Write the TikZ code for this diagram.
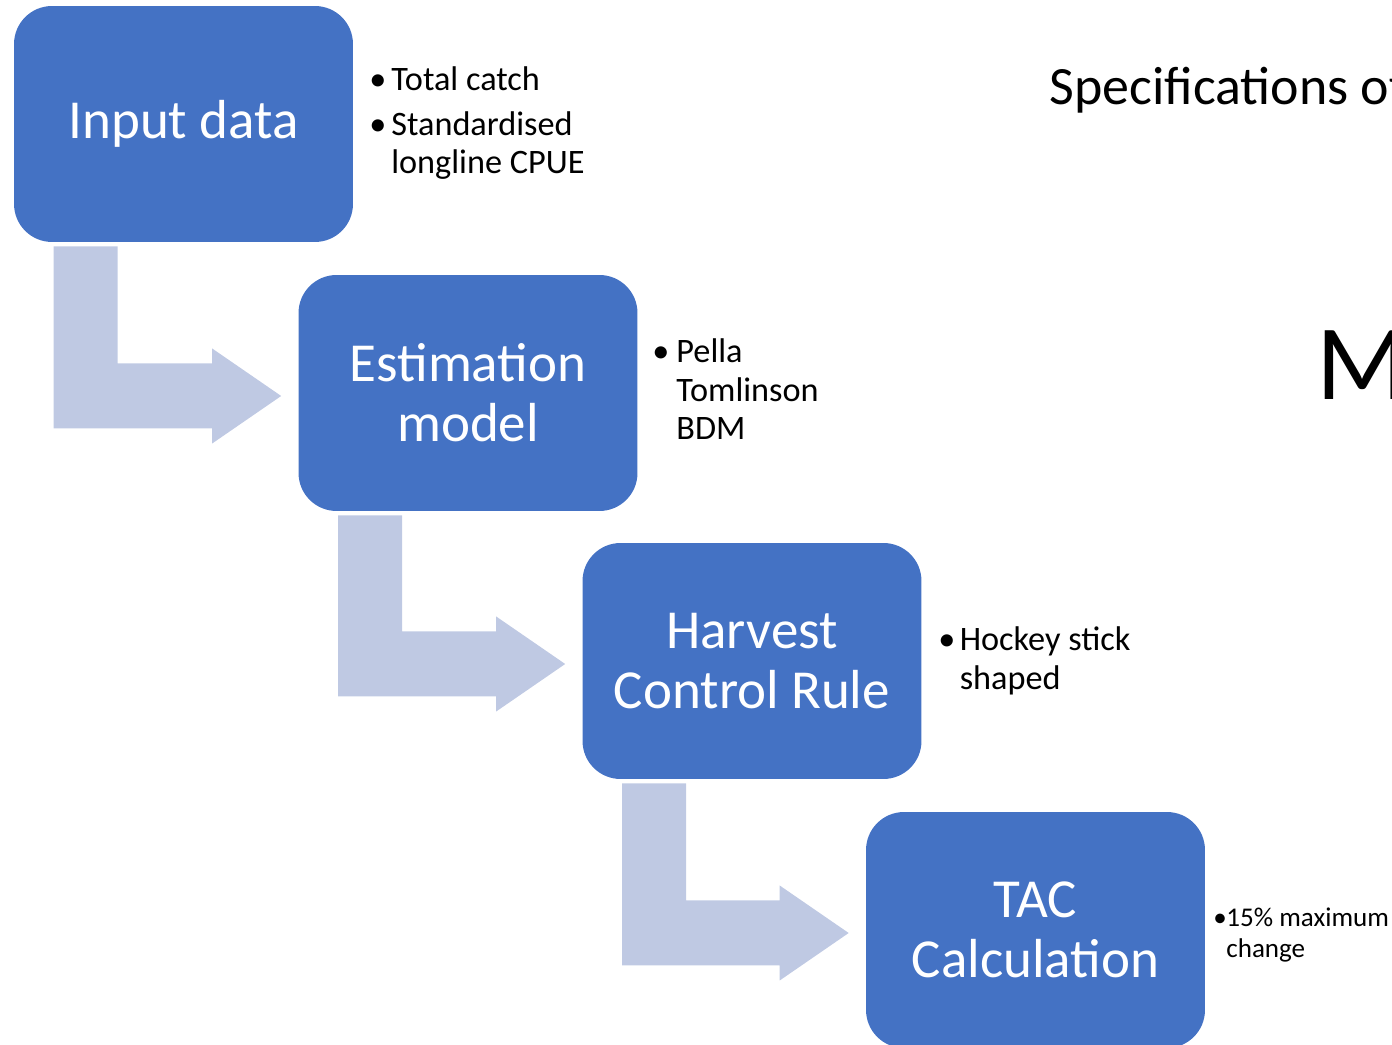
\documentclass[tikz,border=0pt]{standalone}
\usepackage{fontspec}
\setmainfont{Carlito}
\usepackage{tikz}

\definecolor{boxblue}{RGB}{68,114,196}
\definecolor{flowblue}{RGB}{191,201,227}

\begin{document}
\begin{tikzpicture}[x=0.02cm,y=0.02cm]
\tikzstyle{box}=[fill=boxblue, rounded corners=0.76cm, minimum width=6.78cm, minimum height=4.72cm, inner sep=0pt, text=white, align=center, font=\fontsize{31.3}{34}\selectfont]
\tikzstyle{flow}=[fill=flowblue]
\tikzstyle{note}=[anchor=base west, inner sep=0pt, font=\fontsize{19.5}{21.9}\selectfont]
\tikzstyle{smallnote}=[anchor=base west, inner sep=0pt, font=\fontsize{15.4}{17.6}\selectfont]

\useasboundingbox (0,0) rectangle (1392,1044);
\clip (0,0) rectangle (1392,1044);

\node (b1) at (183.5,920) [box] {Input data};
\node (b2) at (468,651) [box] {Estimation\\model};
\node (b3) at (752,383) [box] {Harvest\\Control Rule};
\node (b4) at (1035.5,114) [box] {TAC\\Calculation};

\coordinate (s1) at ([shift={(40,-4)}]b1.south west);
\coordinate (s2) at ([shift={(40,-4)}]b2.south west);
\coordinate (s3) at ([shift={(40,-4)}]b3.south west);
\coordinate (t1) at ([shift={(-17,-3)}]b2.west);
\coordinate (t2) at ([shift={(-17,-3)}]b3.west);
\coordinate (t3) at ([shift={(-17,-3)}]b4.west);

\fill[flow] (s1) -- ++(64,0) |- ([shift={(-69,32.5)}]t1) -- ++(0,15) -- (t1) -- ([shift={(-69,-47.5)}]t1) -- ++(0,15) -| (s1) -- cycle;
\fill[flow] (s2) -- ++(64,0) |- ([shift={(-69,32.5)}]t2) -- ++(0,15) -- (t2) -- ([shift={(-69,-47.5)}]t2) -- ++(0,15) -| (s2) -- cycle;
\fill[flow] (s3) -- ++(64,0) |- ([shift={(-69,32.5)}]t3) -- ++(0,15) -- (t3) -- ([shift={(-69,-47.5)}]t3) -- ++(0,15) -| (s3) -- cycle;

\node (n1) at (369,953) [note] {\begin{tabular}[t]{@{}p{12.5pt}@{}l@{}}\textbullet & Total catch\\[3.4pt] \textbullet & Standardised\\ & longline CPUE\end{tabular}};
\node (n2) at (652,681) [note] {\begin{tabular}[t]{@{}p{13.7pt}@{}l@{}}\textbullet & Pella\\ & Tomlinson\\ & BDM\end{tabular}};
\node (n3) at (938,393) [note] {\begin{tabular}[t]{@{}p{12.2pt}@{}l@{}}\textbullet & Hockey stick\\ & shaped\end{tabular}};
\node (n4) at (1213,117) [smallnote] {\begin{tabular}[t]{@{}p{7.4pt}@{}l@{}}\textbullet & 15\% maximum\\ & change\end{tabular}};

\node (spec) at (1049,939) [anchor=base west, inner sep=0pt, font=\fontsize{30.7}{34}\selectfont] {Specifications of};
\node (m) at (1316,644) [anchor=base west, inner sep=0pt, font=\fontsize{61}{70}\selectfont] {M};
\end{tikzpicture}
\end{document}
